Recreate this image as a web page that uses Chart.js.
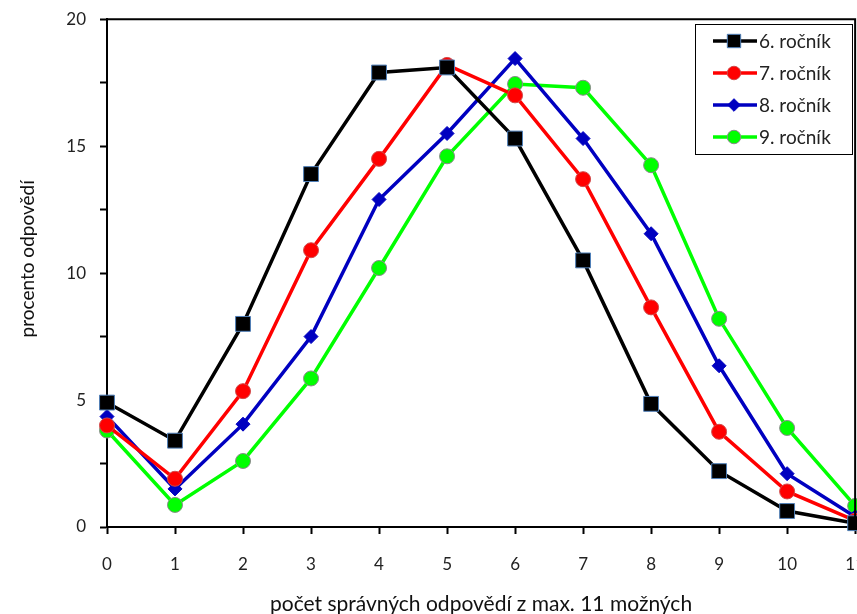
<!DOCTYPE html>
<html>
<head>
<meta charset="utf-8">
<script src="https://cdn.jsdelivr.net/npm/chart.js@4"></script>
<style>
  html, body { margin: 0; padding: 0; background: #fff; overflow: hidden; }
  #clip { width: 857px; height: 614px; overflow: hidden; position: relative; }
  /* canvas a bit larger than the window so the plot frame reaches the edges
     and the last x label ("11") gets cut like in the original */
  #wrap { width: 885px; height: 620px; position: absolute; left: 0; top: -5px; }
</style>
</head>
<body>
<div id="clip"><div id="wrap"><canvas id="chart"></canvas></div></div>
<script>
// x: number of correct answers (0..11)
const answers = [0, 1, 2, 3, 4, 5, 6, 7, 8, 9, 10, 11];

const grade6 = [4.9, 3.4, 8.0, 13.9, 17.9, 18.1, 15.3, 10.5, 4.85, 2.2, 0.63, 0.15];
const grade7 = [4.0, 1.9, 5.35, 10.9, 14.5, 18.2, 17.0, 13.7, 8.65, 3.75, 1.4, 0.25];
const grade8 = [4.35, 1.5, 4.05, 7.5, 12.9, 15.5, 18.45, 15.3, 11.55, 6.35, 2.1, 0.4];
const grade9 = [3.8, 0.87, 2.6, 5.85, 10.2, 14.6, 17.45, 17.3, 14.25, 8.2, 3.9, 0.83];

const seriesNames = ["6. ročník", "7. ročník", "8. ročník", "9. ročník"];
const yTicks = [0, 5, 10, 15, 20];

const FONT = "Lato, 'Open Sans', sans-serif";
const OFF_Y = 5; // canvas is shifted up by this much

function points(vals){
  return answers.map((x, i) => ({ x, y: vals[i] }));
}

const STYLES = [
  { color: "#000000", point: "rect",    radius: 10.5, border: "#4f7fb8" },
  { color: "#ff0000", point: "circle",  radius: 7.5,  border: "#d04a4a" },
  { color: "#0000c0", point: "rectRot", radius: 7,    border: "#0000c0" },
  { color: "#00ff00", point: "circle",  radius: 7.5,  border: "#8a8a8a" }
];

function makeDataset(label, vals, st){
  return {
    label,
    data: points(vals),
    borderColor: st.color,
    backgroundColor: st.color,
    borderWidth: 3.5,
    pointStyle: st.point,
    pointRadius: st.radius,
    pointHoverRadius: st.radius,
    pointBackgroundColor: st.color,
    pointBorderColor: st.border,
    pointBorderWidth: 1,
    tension: 0,
    clip: false
  };
}

// frame around plot + legend box inside the plot
const frameAndLegend = {
  id: "frameAndLegend",
  afterDraw(chart){
    const { ctx, chartArea: a } = chart;
    ctx.save();
    ctx.strokeStyle = "#000";
    ctx.lineWidth = 2;
    ctx.beginPath();
    ctx.moveTo(a.left, a.top);
    ctx.lineTo(a.right, a.top);
    ctx.lineTo(a.right, a.bottom);
    ctx.stroke();

    // legend
    const bx = 695.5, by = 24.5 + OFF_Y, bw = 157, bh = 130;
    ctx.fillStyle = "#fff";
    ctx.fillRect(bx, by, bw, bh);
    ctx.lineWidth = 1;
    ctx.strokeRect(bx, by, bw, bh);
    const rows = [41, 73, 105, 137];
    chart.data.datasets.forEach((ds, i) => {
      const y = rows[i] + OFF_Y;
      ctx.strokeStyle = ds.borderColor;
      ctx.lineWidth = 3.5;
      ctx.beginPath();
      ctx.moveTo(713, y);
      ctx.lineTo(757, y);
      ctx.stroke();
      ctx.fillStyle = ds.pointBackgroundColor;
      ctx.strokeStyle = ds.pointBorderColor;
      ctx.lineWidth = 1;
      Chart.helpers.drawPoint(ctx, {
        pointStyle: ds.pointStyle,
        radius: ds.pointRadius * 0.9,
        rotation: 0,
        borderWidth: 1
      }, 734, y);
      ctx.fillStyle = "#222";
      ctx.font = "19px " + FONT;
      ctx.textBaseline = "middle";
      ctx.textAlign = "left";
      ctx.fillText(ds.label, 759, y + 1);
    });
    ctx.restore();
  }
};

const ctx = document.getElementById("chart").getContext("2d");
new Chart(ctx, {
  type: "line",
  data: {
    datasets: [
      makeDataset(seriesNames[0], grade6, STYLES[0]),
      makeDataset(seriesNames[1], grade7, STYLES[1]),
      makeDataset(seriesNames[2], grade8, STYLES[2]),
      makeDataset(seriesNames[3], grade9, STYLES[3])
    ]
  },
  options: {
    responsive: true,
    maintainAspectRatio: false,
    animation: false,
    layout: { padding: { left: 0, right: 0, top: 19, bottom: 0 } },
    plugins: {
      legend: { display: false },
      tooltip: { enabled: false }
    },
    scales: {
      x: {
        type: "linear",
        min: 0,
        max: 11,
        afterFit(scale){
          scale.height = 88;
        },
        ticks: {
          stepSize: 1,
          autoSkip: false,
          maxRotation: 0,
          padding: 20,
          color: "#222",
          font: { family: FONT, size: 17 }
        },
        grid: {
          drawOnChartArea: false,
          drawTicks: true,
          tickLength: 7,
          tickWidth: 2,
          color: "#000"
        },
        border: { display: true, color: "#000", width: 2 },
        title: {
          display: true,
          text: "počet správných odpovědí z max. 11 možných",
          color: "#111",
          font: { family: FONT, size: 21, lineHeight: 1 },
          padding: { top: 0, bottom: 0 }
        }
      },
      y: {
        min: 0,
        max: 20,
        afterFit(scale){
          scale.width = 107;
        },
        afterBuildTicks(scale){
          const t = [];
          for (let v = 0; v <= 20; v += 2.5) t.push({ value: v });
          scale.ticks = t;
        },
        ticks: {
          padding: 14,
          color: "#222",
          font: { family: FONT, size: 17 },
          callback: (v) => yTicks.includes(v) ? String(v) : ""
        },
        grid: {
          drawOnChartArea: false,
          drawTicks: true,
          tickLength: 7,
          tickWidth: 2,
          color: "#000"
        },
        border: { display: true, color: "#000", width: 2 },
        title: {
          display: true,
          text: "\u2003\u2003procento odpovědí",
          color: "#111",
          font: { family: FONT, size: 19, lineHeight: 1 },
          padding: { top: 18, bottom: 0 }
        }
      }
    }
  },
  plugins: [frameAndLegend]
});
</script>
</body>
</html>
